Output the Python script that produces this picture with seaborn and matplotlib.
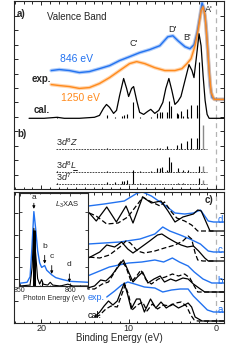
import matplotlib
matplotlib.use("Agg")
import numpy as np
import matplotlib.pyplot as plt
import seaborn as sns
from matplotlib.ticker import MultipleLocator
from matplotlib.lines import Line2D

# ---- panel a) valence band (binding energy in eV, intensity in arb. units)
vb846_E = [18.85, 17.93, 16.78, 15.63, 14.48, 13.33, 12.18, 11.03, 9.89, 8.74,
           7.59, 6.44, 5.52, 4.94, 4.37, 3.56, 2.99, 2.53, 2.18, 1.84,
           1.61, 1.38, 1.15, 0.92, 0.69, 0.46, 0.11, -0.92]
vb846_I = [8.21, 8.28, 8.21, 8.07, 8.14, 8.34, 8.55, 8.90, 9.17, 9.45,
           9.66, 9.93, 10.55, 10.62, 10.28, 9.86, 9.72, 10.0, 10.83, 12.0,
           12.9, 12.48, 11.31, 9.24, 7.17, 6.34, 6.21, 6.21]

vb1250_E = [18.85, 17.93, 16.78, 15.63, 14.48, 13.33, 12.18, 11.03, 9.89, 9.08,
            8.16, 7.01, 5.86, 4.71, 3.91, 3.33, 2.87, 2.41, 2.07, 1.72,
            1.49, 1.26, 1.03, 0.80, 0.57, 0.23, -0.92]
vb1250_I = [7.24, 7.17, 7.10, 6.97, 7.03, 7.31, 7.72, 8.21, 8.69, 8.83,
            8.69, 8.41, 8.21, 8.21, 8.34, 8.69, 9.03, 9.93, 10.97, 12.34,
            12.62, 12.0, 10.28, 8.21, 6.69, 6.21, 6.21]

vbcal_E = [21.38, 19.66, 18.16, 17.36, 15.63, 13.91, 13.33, 12.87, 12.53, 12.18,
           11.72, 11.38, 11.03, 10.57, 10.23, 10.0, 9.66, 9.43, 9.08, 8.74,
           8.28, 7.82, 7.47, 7.01, 6.55, 6.09, 5.75, 5.40, 5.06, 4.71,
           4.37, 4.02, 3.56, 3.10, 2.76, 2.53, 2.30, 1.95, 1.72, 1.49,
           1.26, 1.03, 0.80, -0.92]
vbcal_I = [4.90, 4.90, 4.97, 4.90, 4.90, 4.97, 5.10, 5.59, 5.86, 5.66,
           5.24, 5.45, 6.48, 7.66, 6.97, 6.41, 6.97, 7.10, 6.14, 5.31,
           5.17, 5.38, 5.52, 5.24, 5.45, 6.00, 6.97, 7.66, 6.83, 5.86,
           6.07, 6.41, 7.52, 8.62, 8.21, 7.72, 8.90, 10.76, 9.93, 7.86,
           6.14, 5.17, 4.90, 4.90]
cal_base = 4.90

# ---- final-state sticks, weight per configuration (panel b)
stick_E = [18.2, 12.5, 11.6, 10.8, 10.5, 10.2, 9.5, 8.7, 7.4, 6.8,
           6.4, 6.2, 5.6, 5.4, 5.2, 4.5, 4.4, 4.0, 3.8, 3.3,
           3.2, 2.9, 2.2, 1.95]
w_Z = [0, 0.07, 0, 0, 0, 0, 0, 0.03, 0, 0.07,
       0.07, 0, 0.21, 0, 0, 0.28, 0, 0.41, 0, 0.55,
       0, 0.76, 0.76, 2.48]
w_L = [0.03, 0.03, 0, 0, 0, 0, 0, 0.03, 0.07, 0.24,
       0.28, 0.34, 0.14, 1.0, 0.69, 0, 0.24, 0, 0.10, 0,
       0.10, 0, 0, 0.38]
w_d7 = [0.03, 0.10, 0.10, 0.14, 0.17, 0.24, 0.93, 0.03, 0, 0,
        0, 0, 0, 0, 0, 0, 0.03, 0, 0.03, 0,
        0, 0, 0, 0.38]
gray_E = 1.5
gray_w = [1.66, 0.38, 0.24]          # Z, L, d7
config_labels = [r"$3d^8Z$", r"$3d^8L$", r"$3d^7$"]
config_base = [2.76, 1.21, 0.38]

# ---- panel c) resonant spectra a-d: (exp, cal solid, cal dashed)
res_offsets = {"a": 0.2, "b": 3.1, "c": 6.2, "d": 9.2}

d_exp_E = [14.6, 12.8, 10.5, 9.0, 8.4, 7.4, 6.9, 5.9, 4.7, 3.6, 2.6, 1.8, 1.3, 0.9, 0.3, -0.92]
d_exp_I = [2.5, 2.7, 3.0, 3.8, 3.9, 3.5, 3.2, 2.6, 1.8, 1.7, 1.8, 2.1, 1.5, 1.0, 0.9, 0.9]
d_cal_E = [14.6, 13.7, 12.5, 11.4, 10.3, 9.5, 8.4, 7.4, 6.3, 5.5, 4.7, 3.8, 2.6, 2.1, 1.7, 1.2, 0.7, -0.92]
d_cal_I = [1.9, 1.0, 2.4, 0.9, 2.5, 0.8, 3.4, 2.8, 3.0, 2.0, 0.9, 1.4, 1.7, 2.1, 2.0, 1.0, 0.0, 0.0]
d_dash_E = [14.5, 13.7, 12.5, 11.2, 10.1, 8.7, 8.4, 7.6, 6.4, 5.9, 5.1, 4.5, 3.6, 2.8, 2.1, 0.3]
d_dash_I = [1.8, 1.5, 0.7, 0.8, 1.4, 3.0, 3.4, 3.0, 2.5, 2.9, 1.9, 1.3, 1.0, 0.6, 0.0, 0.0]

c_exp_E = [14.6, 11.0, 8.7, 7.0, 6.1, 5.3, 4.1, 3.0, 1.8, 0.9, 0.3, -0.92]
c_exp_I = [1.7, 1.9, 2.2, 2.7, 3.4, 3.0, 2.6, 2.2, 1.7, 1.0, 0.9, 0.9]
c_cal_E = [14.6, 13.3, 12.5, 11.6, 10.8, 10.1, 9.5, 8.7, 7.6, 6.7, 6.2, 5.5, 4.7, 4.0, 3.3, 2.6, 2.0, 1.3, 0.9, -0.92]
c_cal_I = [0.3, 0.9, 1.6, 1.4, 1.9, 1.2, 0.8, 1.3, 2.0, 2.6, 2.7, 2.3, 1.9, 1.6, 1.4, 1.5, 1.0, 0.3, 0.0, 0.0]
c_dash_E = [14.6, 13.3, 12.2, 11.0, 10.3, 9.8, 9.0, 8.2, 7.0, 5.9, 4.7, 3.8, 3.2, 2.8, 2.4, 2.1, 1.5, 0.3]
c_dash_I = [0.4, 0.3, 0.6, 1.4, 2.0, 1.8, 1.0, 0.8, 1.0, 1.3, 1.6, 2.0, 2.5, 2.2, 0.8, 0.1, 0.0, 0.0]

b_exp_E = [14.7, 12.2, 10.0, 8.5, 7.0, 6.0, 5.0, 4.2, 3.2, 2.5, 1.5, 0.5, -0.92]
b_exp_I = [1.6, 2.5, 2.9, 3.0, 3.2, 3.0, 3.4, 3.0, 2.6, 2.0, 1.3, 0.9, 0.9]
b_cal_E = [14.7, 13.9, 13.2, 12.6, 12.0, 11.3, 10.6, 10.1, 9.5, 9.0, 8.4, 7.8, 7.1, 6.4, 5.9, 5.2,
           4.6, 3.8, 3.2, 2.6, 1.8, 1.3, -0.92]
b_cal_I = [0.4, 0.6, 1.2, 1.1, 1.6, 2.4, 3.2, 2.2, 1.0, 1.5, 2.0, 0.9, 1.3, 1.6, 1.0, 1.3,
           1.1, 1.4, 1.3, 0.8, 0.3, 0.0, 0.0]
b_dash_E = [14.7, 13.9, 13.0, 12.3, 11.6, 11.1, 10.8, 10.3, 9.7, 9.0, 8.6, 8.0, 7.4, 6.6, 5.8, 5.0,
            4.3, 3.6, 3.0, 2.5, 2.1, -0.92]
b_dash_I = [0.3, 0.3, 0.8, 1.0, 2.0, 2.8, 3.1, 2.5, 1.0, 1.7, 2.2, 1.2, 0.8, 1.3, 1.5, 1.8,
            1.6, 1.8, 1.4, 0.6, 0.0, 0.0]

a_exp_E = [12.5, 11.6, 10.8, 10.1, 9.3, 8.2, 7.0, 6.1, 5.1, 4.1, 3.2, 2.6, 1.8, 1.0, 0.3, -0.92]
a_exp_I = [2.4, 3.0, 3.6, 3.9, 3.7, 3.4, 3.3, 2.9, 3.1, 3.2, 3.2, 2.5, 1.8, 1.1, 0.9, 0.9]
a_cal_E = [13.9, 13.3, 12.8, 12.3, 11.8, 11.3, 10.9, 10.5, 10.1, 9.7, 9.1, 8.7, 8.2, 7.5, 6.9, 6.3,
           5.7, 5.0, 4.3, 3.6, 3.2, 2.8, 2.4, 1.6, -0.92]
a_cal_I = [0.4, 0.9, 1.5, 2.0, 1.6, 2.0, 2.9, 3.8, 2.6, 1.2, 2.2, 2.2, 0.9, 2.2, 1.3, 1.9,
           1.3, 1.7, 1.3, 1.6, 1.8, 1.4, 0.4, 0.0, 0.0]
a_dash_E = [13.9, 13.3, 12.6, 12.0, 11.3, 10.8, 10.4, 10.0, 9.6, 9.0, 8.4, 7.9, 7.3, 6.7, 6.0, 5.3,
            4.6, 4.0, 3.4, 2.9, 2.5, 2.1, -0.92]
a_dash_I = [0.3, 0.6, 1.2, 1.5, 1.4, 2.6, 3.6, 2.6, 1.1, 1.6, 1.9, 1.0, 1.7, 1.2, 1.6, 1.5,
            1.8, 1.9, 1.5, 0.6, 0.1, 0.0, 0.0]

res_data = {
    "a": (a_exp_E, a_exp_I, a_cal_E, a_cal_I, a_dash_E, a_dash_I),
    "b": (b_exp_E, b_exp_I, b_cal_E, b_cal_I, b_dash_E, b_dash_I),
    "c": (c_exp_E, c_exp_I, c_cal_E, c_cal_I, c_dash_E, c_dash_I),
    "d": (d_exp_E, d_exp_I, d_cal_E, d_cal_I, d_dash_E, d_dash_I),
}

# ---- inset: L3 XAS (photon energy eV)
xas_E = [850.0, 851.4, 852.0, 852.35, 852.75, 853.1, 853.5, 853.9, 854.3, 854.9,
         855.3, 855.9, 856.3, 857.1, 858.4, 860.0, 863.5]
xas_I = [0.03, 0.04, 0.10, 0.40, 0.80, 0.62, 0.38, 0.25, 0.20, 0.22,
         0.17, 0.14, 0.12, 0.09, 0.07, 0.05, 0.04]
xas_cal_E = [850.0, 852.0, 852.4, 852.75, 853.1, 853.5, 853.9, 854.3, 854.6, 855.5,
             856.0, 856.5, 858.0, 859.5, 860.5, 863.5]
xas_cal_I = [0.0, 0.01, 0.20, 0.62, 0.35, 0.08, 0.02, 0.07, 0.02, 0.01,
             0.04, 0.01, 0.0, 0.02, 0.0, 0.0]
xas_stick_E = [852.75, 854.3]
xas_stick_I = [0.60, 0.05]
arrow_E = [852.75, 854.9, 856.3, 859.8]
arrow_lab = ["a", "b", "c", "d"]
arrow_top = [0.95, 0.39, 0.28, 0.19]
arrow_tip = [0.83, 0.24, 0.13, 0.04]

BLUE = "#2272f0"
ORANGE = "#ff8a1c"
GRAYDASH = "#b4b4b4"

sns.set_theme(style="ticks")
plt.rcParams['font.family'] = ['Liberation Sans', 'DejaVu Sans']
plt.rcParams['mathtext.fontset'] = 'custom'
plt.rcParams['mathtext.rm'] = 'Liberation Sans'
plt.rcParams['mathtext.it'] = 'Liberation Sans:italic'
plt.rcParams['axes.linewidth'] = 0.8

fig = plt.figure(figsize=(2.43, 3.45), dpi=100)
ax1 = fig.add_axes([14/243, 1 - 189/345, 210/243, 188/345])
ax2 = fig.add_axes([14/243, 1 - 323/345, 210/243, 131/345])
axin = fig.add_axes([19/243, 1 - 286/345, 69/243, 93/345])

for ax in (ax1, ax2):
    ax.set_xlim(23.1, -0.9)
    ax.xaxis.set_major_locator(MultipleLocator(10))
    ax.xaxis.set_minor_locator(MultipleLocator(1))
    ax.tick_params(which="both", direction="in", top=True, right=True,
                   width=0.7, labelleft=False, labelsize=6.5, pad=1)
    ax.tick_params(which="major", length=3)
    ax.tick_params(which="minor", length=1.8)
    ax.axvline(0, color=GRAYDASH, ls=(0, (4, 3)), lw=0.9, zorder=0)

# ---------------- top panel
ax1.set_ylim(0, 13.03)
ax1.yaxis.set_major_locator(MultipleLocator(1))
ax1.tick_params(labelbottom=False)

for E, I, col in [(vb846_E, vb846_I, BLUE), (vb1250_E, vb1250_I, ORANGE)]:
    sns.lineplot(x=E, y=I, ax=ax1, color=col, lw=2.6, alpha=0.35)
    sns.lineplot(x=E, y=I, ax=ax1, color=col, lw=1.0)
sns.lineplot(x=vbcal_E, y=vbcal_I, ax=ax1, color="black", lw=0.9)

w_sum = np.array(w_Z) + np.array(w_L) + np.array(w_d7)
ax1.vlines(stick_E, cal_base, cal_base + 1.2 * w_sum, color="black", lw=0.8)

cfg_texts = []
for w, g, base, lab in zip([w_Z, w_L, w_d7], gray_w, config_base, config_labels):
    ax1.plot([18.3, 1.0], [base, base], color="black", ls=(0, (2.5, 1.5)), lw=0.5)
    ax1.vlines(stick_E, base, base + np.array(w), color="black", lw=0.8)
    ax1.vlines([gray_E], base, base + g, color="#8a8a8a", lw=1.0)
    cfg_texts.append(ax1.text(18.3, base + 0.06, lab, fontsize=6.5, ha="left", va="bottom"))

ax1.text(22.76, 12.14, "a)", fontsize=7, weight="bold", va="center")
ax1.text(22.76, 3.79, "b)", fontsize=7, weight="bold", va="center")
ax1.text(19.3, 11.93, "Valence Band", fontsize=7, va="center")
ax1.text(17.9, 9.03, "846 eV", fontsize=7.5, color=BLUE, va="center")
ax1.text(21.1, 7.59, "exp.", fontsize=7, weight="bold", va="center")
ax1.text(17.7, 6.34, "1250 eV", fontsize=7.5, color=ORANGE, va="center")
ax1.text(20.8, 5.45, "cal.", fontsize=7, weight="bold", va="center")
for lab, x, y in [("C'", 9.4, 10.07), ("D'", 5.05, 11.03), ("B'", 3.33, 10.48), ("A'", 0.8, 12.41)]:
    ax1.text(x, y, lab, fontsize=6.5, ha="center", va="center")
ax1.set_ylabel("Intensity (arb. units)", fontsize=7, labelpad=2)
ax1.set_xlabel("")

# ---------------- bottom panel
ax2.set_ylim(0, 13.1)
ax2.yaxis.set_major_locator(MultipleLocator(2.2))
for key, (eE, eI, cE, cI, dE, dI) in res_data.items():
    off = res_offsets[key]
    sns.lineplot(x=eE, y=np.array(eI) + off, ax=ax2, color=BLUE, lw=1.0)
    sns.lineplot(x=dE, y=np.array(dI) + off, ax=ax2, color="black", lw=0.9, linestyle=(0, (4, 2)))
    sns.lineplot(x=cE, y=np.array(cI) + off, ax=ax2, color="black", lw=0.9)
    ax2.text(-0.45, off + 1.1, key, fontsize=7, color=BLUE, ha="center", va="center")
ax2.text(1.26, 12.8, "c)", fontsize=7, weight="bold", ha="left", va="top")
ax2.text(14.7, 2.6, "exp.", fontsize=6.5, color=BLUE, va="center")
ax2.text(14.7, 0.8, "cal.", fontsize=6.5, color="black", va="center")
ax2.set_xlabel("Binding Energy (eV)", fontsize=7, labelpad=0)
ax2.set_ylabel("")

# ---------------- inset
axin.set_facecolor("white")
axin.set_xlim(849.8, 863.5)
axin.set_ylim(0, 1.0)
sns.lineplot(x=xas_E, y=xas_I, ax=axin, color=BLUE, lw=1.0)
sns.lineplot(x=xas_cal_E, y=xas_cal_I, ax=axin, color="black", lw=0.8)
axin.vlines(xas_stick_E, 0, xas_stick_I, color="black", lw=[2.2, 0.8])
for x, lab, t0, t1 in zip(arrow_E, arrow_lab, arrow_top, arrow_tip):
    axin.annotate("", xy=(x, t1), xytext=(x, t0 - 0.06),
                  arrowprops=dict(arrowstyle="-|>", color="black", lw=0.6,
                                  mutation_scale=4, shrinkA=0, shrinkB=0))
    axin.text(x, t0, lab, fontsize=6, ha="center", va="bottom" if lab != "a" else "center")
axin.text(857.0, 0.87, r"$L_3$XAS", fontsize=5.5, ha="left", va="center")
axin.xaxis.set_major_locator(MultipleLocator(10))
axin.xaxis.set_minor_locator(MultipleLocator(2))
axin.yaxis.set_major_locator(MultipleLocator(0.2))
axin.tick_params(which="both", direction="in", top=True, right=True, width=0.6,
                 labelleft=False, labelsize=5, pad=1)
axin.tick_params(which="major", length=2)
axin.tick_params(which="minor", length=1)
axin.set_xlabel("Photon Energy (eV)", fontsize=5, labelpad=0.5)
axin.set_ylabel("")

# underline the ligand-hole "L" of the second configuration label
fig.canvas.draw()
bb = cfg_texts[1].get_window_extent()
fig.add_artist(Line2D([(bb.x1 - 4.3) / 243, (bb.x1 - 0.3) / 243],
                      [(bb.y0 + 0.8) / 345] * 2, color="black", lw=0.6))

fig.savefig("out.png", dpi=100)
